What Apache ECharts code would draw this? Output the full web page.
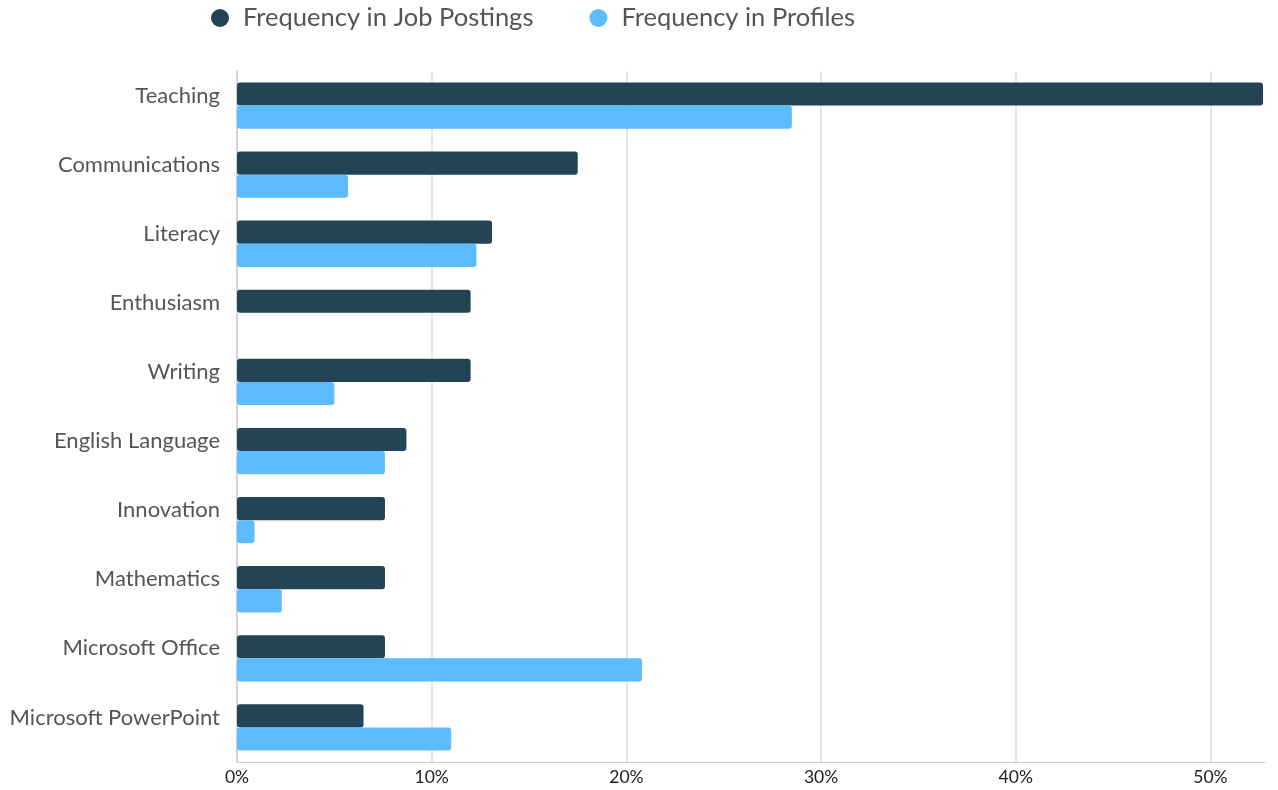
<!DOCTYPE html>
<html><head><meta charset="utf-8">
<script src="https://cdn.jsdelivr.net/npm/echarts@6/dist/echarts.min.js"></script>
<style>html,body{margin:0;padding:0;background:#fff}#c{width:1278px;height:790px}</style>
</head><body><div id="c"></div>
<script>
const categories = ["Teaching","Communications","Literacy","Enthusiasm","Writing","English Language","Innovation","Mathematics","Microsoft Office","Microsoft PowerPoint"];
const jobPostings = [52.7,17.5,13.1,12.0,12.0,8.7,7.6,7.6,7.6,6.5];
const profiles = [28.5,5.7,12.3,0,5.0,7.6,0.9,2.3,20.8,11.0];
const seriesNames = ["Frequency in Job Postings","Frequency in Profiles"];

const chart = echarts.init(document.getElementById('c'));
chart.setOption({
  animation:false,
  textStyle:{fontFamily:'Lato'},
  legend:{top:0,left:206,itemGap:56,icon:'circle',itemWidth:18,itemHeight:18,
    textStyle:{fontSize:25.5,color:'#555',fontFamily:'Lato',padding:[0,0,0,9]},data:seriesNames},
  grid:{left:237,right:13,top:71,bottom:28,containLabel:false},
  xAxis:{type:'value',min:0,max:52.8,interval:10,
    axisLine:{show:true,lineStyle:{color:'#ccc'}},
    axisTick:{show:false},
    axisLabel:{formatter:'{value}%',fontSize:17.5,color:'#222',margin:6,showMaxLabel:false},
    splitLine:{show:true,showMaxLine:false,lineStyle:{color:'#ddd',width:1.5}}},
  yAxis:{type:'category',inverse:true,data:categories,
    axisLine:{show:true,lineStyle:{color:'#ccc',width:1.5}},axisTick:{show:false},
    axisLabel:{fontSize:22,color:'#555',margin:17,verticalAlign:'bottom',lineHeight:20}},
  series:[
    {name:seriesNames[0],type:'bar',data:jobPostings,itemStyle:{color:'#224455',borderRadius:3},barGap:'0%',barCategoryGap:'33%'},
    {name:seriesNames[1],type:'bar',data:profiles,itemStyle:{color:'#5cbcff',borderRadius:3},barGap:'0%',barCategoryGap:'33%'}
  ]
});
</script></body></html>
